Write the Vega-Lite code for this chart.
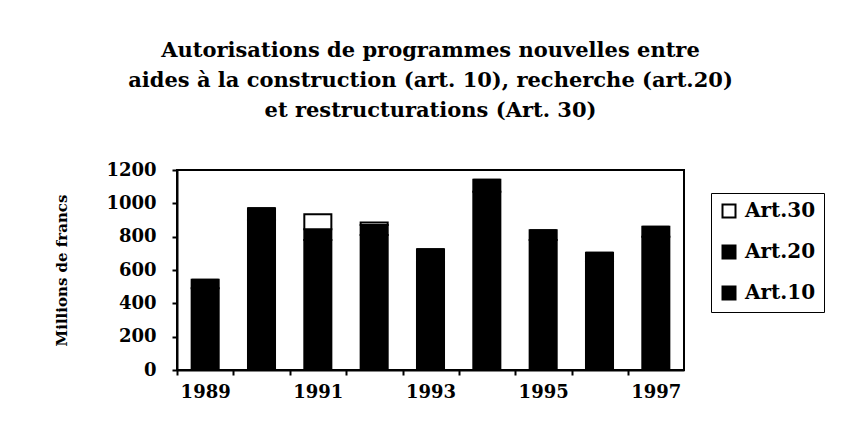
{
  "$schema": "https://vega.github.io/schema/vega-lite/v6.json",
  "width": 507,
  "height": 200,
  "autosize": {"type": "none"},
  "padding": {"left": 177, "top": 170, "right": 162, "bottom": 77},
  "background": "white",
  "config": {
    "font": "DejaVu Serif",
    "view": {"stroke": "black", "strokeWidth": 2},
    "axis": {"grid": false}
  },
  "title": {
    "text": ["Autorisations de programmes nouvelles entre", "aides à la construction (art. 10), recherche (art.20)", "et restructurations (Art. 30)"],
    "font": "DejaVu Serif",
    "fontSize": 21,
    "fontWeight": "bold",
    "color": "black",
    "lineHeight": 30,
    "anchor": "middle",
    "frame": "group",
    "offset": 40
  },
  "data": {
    "values": [
      {"year": "1989", "art": "Art.10", "value": 490},
      {"year": "1989", "art": "Art.20", "value": 52},
      {"year": "1989", "art": "Art.30", "value": 0},
      {"year": "1990", "art": "Art.10", "value": 900},
      {"year": "1990", "art": "Art.20", "value": 70},
      {"year": "1990", "art": "Art.30", "value": 0},
      {"year": "1991", "art": "Art.10", "value": 780},
      {"year": "1991", "art": "Art.20", "value": 65},
      {"year": "1991", "art": "Art.30", "value": 90},
      {"year": "1992", "art": "Art.10", "value": 810},
      {"year": "1992", "art": "Art.20", "value": 60},
      {"year": "1992", "art": "Art.30", "value": 15},
      {"year": "1993", "art": "Art.10", "value": 665},
      {"year": "1993", "art": "Art.20", "value": 60},
      {"year": "1993", "art": "Art.30", "value": 0},
      {"year": "1994", "art": "Art.10", "value": 1070},
      {"year": "1994", "art": "Art.20", "value": 71},
      {"year": "1994", "art": "Art.30", "value": 0},
      {"year": "1995", "art": "Art.10", "value": 780},
      {"year": "1995", "art": "Art.20", "value": 59},
      {"year": "1995", "art": "Art.30", "value": 0},
      {"year": "1996", "art": "Art.10", "value": 650},
      {"year": "1996", "art": "Art.20", "value": 53},
      {"year": "1996", "art": "Art.30", "value": 0},
      {"year": "1997", "art": "Art.10", "value": 800},
      {"year": "1997", "art": "Art.20", "value": 59},
      {"year": "1997", "art": "Art.30", "value": 0}
    ]
  },
  "transform": [
    {"calculate": "datum.art === 'Art.10' ? 0 : datum.art === 'Art.20' ? 1 : 2", "as": "stackOrder"}
  ],
  "mark": {"type": "bar", "stroke": "black", "strokeWidth": 2},
  "encoding": {
    "x": {
      "field": "year",
      "type": "ordinal",
      "sort": "ascending",
      "scale": {"paddingInner": 0.52, "paddingOuter": 0.26},
      "axis": {
        "title": null,
        "labelAngle": 0,
        "labelFont": "DejaVu Serif",
        "labelFontSize": 18,
        "labelFontWeight": "bold",
        "labelColor": "black",
        "labelPadding": 8,
        "labelExpr": "indexof(['1989','1991','1993','1995','1997'], datum.label) >= 0 ? datum.label : ''",
        "tickOffset": -28,
        "labelOffset": 28,
        "tickSize": 5,
        "tickColor": "black",
        "tickWidth": 2,
        "domainColor": "black",
        "domainWidth": 2
      }
    },
    "y": {
      "field": "value",
      "type": "quantitative",
      "stack": "zero",
      "scale": {"domain": [0, 1200], "nice": false},
      "axis": {
        "title": "Millions de francs",
        "titleFont": "DejaVu Serif",
        "titleFontSize": 15,
        "titleFontWeight": "bold",
        "titleColor": "black",
        "titlePadding": 36,
        "values": [0, 200, 400, 600, 800, 1000, 1200],
        "format": "d",
        "labelFont": "DejaVu Serif",
        "labelFontSize": 18,
        "labelFontWeight": "bold",
        "labelColor": "black",
        "labelPadding": 16,
        "tickSize": 5,
        "tickColor": "black",
        "tickWidth": 2,
        "domainColor": "black",
        "domainWidth": 2
      }
    },
    "color": {
      "field": "art",
      "type": "nominal",
      "scale": {"domain": ["Art.30", "Art.20", "Art.10"], "range": ["white", "black", "black"]},
      "legend": {
        "title": null,
        "orient": "none",
        "legendX": 534,
        "legendY": 23,
        "symbolType": "square",
        "symbolSize": 169,
        "symbolStrokeColor": "black",
        "symbolStrokeWidth": 2,
        "labelFont": "DejaVu Serif",
        "labelFontSize": 20,
        "labelFontWeight": "bold",
        "labelColor": "black",
        "labelOffset": 6,
        "rowPadding": 19,
        "padding": 8,
        "strokeColor": "black",
        "fillColor": "white"
      }
    },
    "order": {"field": "stackOrder", "type": "quantitative"}
  }
}
